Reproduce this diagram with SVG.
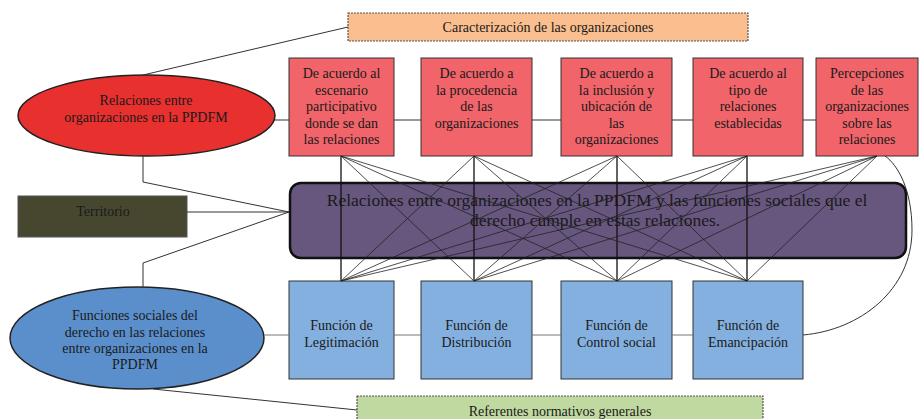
<svg xmlns="http://www.w3.org/2000/svg" width="919" height="419" viewBox="0 0 919 419">
<style>
text{font-family:'Liberation Serif','Times New Roman',serif;font-size:14px;fill:#1a1a1a;text-anchor:middle}
.red{fill:#f0646a;stroke:#333;stroke-width:1}
.blue{fill:#84b0df;stroke:#333;stroke-width:1}
.dash{stroke:#555;stroke-width:1.2;stroke-dasharray:2 1}
.c{fill:none;stroke:#333;stroke-width:1}
.g{fill:none;stroke:#777;stroke-width:1}
.x{fill:none;stroke:#222;stroke-width:0.8}
.v{fill:none;stroke:#111;stroke-width:1.3}
.big{font-size:17.5px}
</style>
<rect width="919" height="419" fill="#fff"/>
<g id="caracterizacion">
<rect x="348" y="13" width="400" height="28" fill="#fbbf8f" class="dash"/>
<text x="548" y="32">Caracterización de las organizaciones</text>
</g>
<g id="referentes">
<rect x="357" y="396" width="406" height="30" fill="#c0d9a0" class="dash"/>
<text x="560" y="416">Referentes normativos generales</text>
</g>
<g id="relaciones-ellipse">
<ellipse cx="146.5" cy="115.5" rx="128.5" ry="40.5" fill="#e8302f" stroke="#222" stroke-width="1.5"/>
<text x="146" y="105">Relaciones entre</text>
<text x="146" y="122">organizaciones en la PPDFM</text>
</g>
<g id="territorio">
<rect x="18" y="196" width="169" height="41" fill="#474730" stroke="#555" stroke-width="1"/>
<text x="103" y="216" fill="#222">Territorio</text>
</g>
<g id="funciones-ellipse">
<ellipse cx="137" cy="338" rx="127" ry="51" fill="#5b8fcc" stroke="#222" stroke-width="1.5"/>
<text x="135" y="320">Funciones sociales del</text>
<text x="135" y="337">derecho en las relaciones</text>
<text x="135" y="353">entre organizaciones en la</text>
<text x="135" y="369">PPDFM</text>
</g>
<g id="central">
<rect x="290" y="183" width="616" height="75" rx="11" ry="11" fill="#67577f" stroke="#111" stroke-width="2.5"/>
<text class="big" x="597" y="206">Relaciones entre organizaciones en la PPDFM y las funciones sociales que el</text>
<text class="big" x="595" y="226">derecho cumple en estas relaciones.</text>
</g>
<g id="r1">
<rect class="red" x="289" y="58" width="105" height="98"/>
<text x="341.5" y="78">De acuerdo al</text>
<text x="341.5" y="94.5">escenario</text>
<text x="341.5" y="111">participativo</text>
<text x="341.5" y="127.5">donde se dan</text>
<text x="341.5" y="144">las relaciones</text>
</g>
<g id="r2">
<rect class="red" x="421" y="58" width="111" height="98"/>
<text x="476.5" y="78">De acuerdo a</text>
<text x="476.5" y="94.5">la procedencia</text>
<text x="476.5" y="111">de las</text>
<text x="476.5" y="127.5">organizaciones</text>
</g>
<g id="r3">
<rect class="red" x="561" y="58" width="111" height="98"/>
<text x="616.5" y="78">De acuerdo a</text>
<text x="616.5" y="94.5">la inclusión y</text>
<text x="616.5" y="111">ubicación de</text>
<text x="616.5" y="127.5">las</text>
<text x="616.5" y="144">organizaciones</text>
</g>
<g id="r4">
<rect class="red" x="693" y="58" width="110" height="98"/>
<text x="748" y="78">De acuerdo al</text>
<text x="748" y="94.5">tipo de</text>
<text x="748" y="111">relaciones</text>
<text x="748" y="127.5">establecidas</text>
</g>
<g id="r5">
<rect class="red" x="816" y="58" width="102" height="98"/>
<text x="867" y="78">Percepciones</text>
<text x="867" y="94.5">de las</text>
<text x="867" y="111">organizaciones</text>
<text x="867" y="127.5">sobre las</text>
<text x="867" y="144">relaciones</text>
</g>
<g id="b1">
<rect class="blue" x="289" y="281" width="105" height="98"/>
<text x="341.5" y="330">Función de</text>
<text x="341.5" y="347">Legitimación</text>
</g>
<g id="b2">
<rect class="blue" x="421" y="281" width="111" height="98"/>
<text x="476.5" y="330">Función de</text>
<text x="476.5" y="347">Distribución</text>
</g>
<g id="b3">
<rect class="blue" x="561" y="281" width="111" height="98"/>
<text x="616.5" y="330">Función de</text>
<text x="616.5" y="347">Control social</text>
</g>
<g id="b4">
<rect class="blue" x="693" y="281" width="110" height="98"/>
<text x="748" y="330">Función de</text>
<text x="748" y="347">Emancipación</text>
</g>
<g id="connectors">
<path class="c" d="M143,75 L348,27"/>
<path class="c" d="M143,156 L143,182 L289,212"/>
<path class="c" d="M187,212 L289,212"/>
<path class="c" d="M143,287 L143,263 L289,212"/>
<path class="c" d="M153,389 L357,410"/>
<path class="c" d="M275,120 H289 M394,120 H421 M532,120 H561 M672,120 H693 M803,120 H816"/>
<path class="g" d="M264,335 H289 M394,335 H421 M532,335 H561 M672,335 H693"/>
<path class="c" d="M803,335 C860,330 912,290 912,230 C912,190 898,165 885,156"/>
<path class="v" d="M341,156 V281 M474,156 V281 M617,156 V281 M747,156 V281"/>
<path class="x" d="M341,156 L474,281 M341,156 L617,281 M341,156 L747,281
M474,156 L341,281 M474,156 L617,281 M474,156 L747,281
M617,156 L341,281 M617,156 L474,281 M617,156 L747,281
M747,156 L341,281 M747,156 L474,281 M747,156 L617,281
M877,156 L341,281 M877,156 L474,281 M877,156 L617,281 M877,156 L747,281"/>
</g>
</svg>
